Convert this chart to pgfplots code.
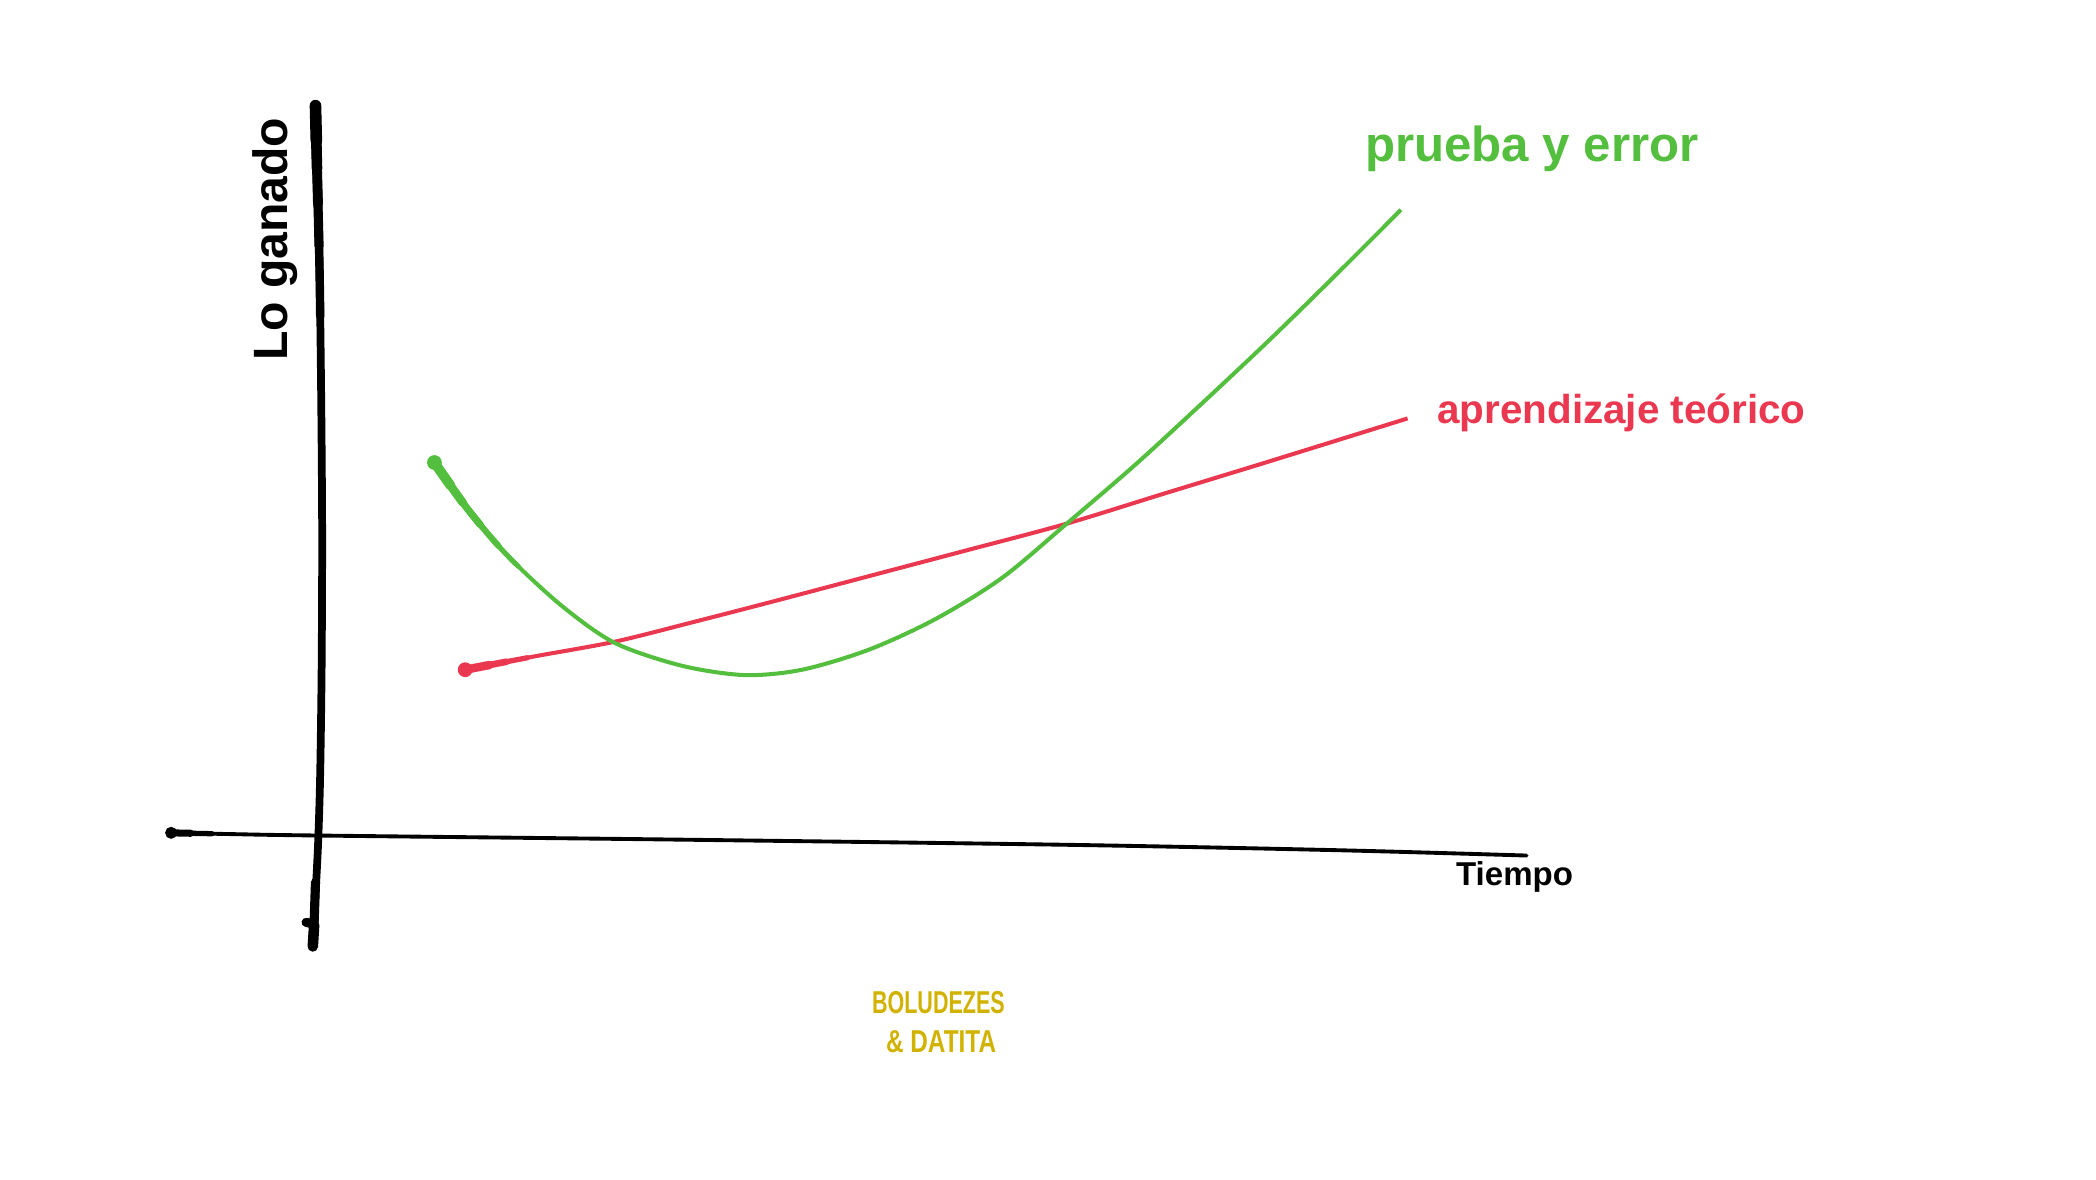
\documentclass[border=0pt]{standalone}
\usepackage{fontspec}
\setmainfont{Liberation Sans}
\usepackage{graphicx}
\usepackage{pgfplots}
\usepackage{pgfplotstable}
\pgfplotsset{compat=1.18}
\definecolor{pgreen}{RGB}{84,190,62}
\definecolor{pred}{RGB}{234,56,80}
\definecolor{pgold}{RGB}{210,178,0}
\pgfplotstableread{
x y
325 346
350 381
380 416
420 453
460 481
510 498
557 505
600 501
650 486
700 463
750 432
800 390
850 347
900 301
950 254
1000 205
1048 157
}\greendata
\pgfplotstableread{
x y
348 501
400 491
460 480
520 465
580 449.5
650 431
720 412.5
797 392
870 369.5
950 345
1053 313
}\reddata
\pgfplotstableread{
x y
236 79
237 120
239 200
240.3 300
241 400
240.6 500
239.5 580
238 630
236 670
234 708
}\yaxisdata
\pgfplotstableread{
x y
127 623
175 624
236 625
500 628
800 632
1000 636
1142 640
}\xaxisdata
\pgfplotsset{taper/.style 2 args={line width=#1, line cap=round, smooth, dash pattern=on #2 off 3000pt}}
\begin{document}
\begin{tikzpicture}
\begin{axis}[scale only axis, width=20.96cm, height=11.79cm,
  xmin=0, xmax=1568, ymin=0, ymax=882, y dir=reverse,
  axis lines=none, ticks=none, clip=false]
\coordinate (bl) at (rel axis cs:0,0);
\coordinate (tr) at (rel axis cs:1,1);
% hand-drawn y axis (tapered stroke)
\addplot[black, line width=2.2pt, line cap=round, smooth] table {\yaxisdata};
\addplot[black, taper={2.4pt}{60pt}] table {\yaxisdata};
\addplot[black, taper={2.6pt}{40pt}] table {\yaxisdata};
\addplot[black, taper={2.8pt}{28pt}] table {\yaxisdata};
\addplot[black, taper={3.0pt}{18pt}] table {\yaxisdata};
\addplot[black, taper={3.3pt}{10pt}] table {\yaxisdata};
\addplot[black, line width=2.6pt, line cap=round] coordinates {(236,660) (235,690) (234,708)};
\addplot[black, line width=3pt, line cap=round] coordinates {(235,692) (234,708)};
\addplot[black, line width=2.6pt, line cap=round] coordinates {(229,690) (234,691)};
% hand-drawn x axis
\addplot[black, line width=1.1pt, line cap=round, smooth] table {\xaxisdata};
\addplot[black, taper={1.5pt}{12pt}] table {\xaxisdata};
\addplot[black, taper={2.0pt}{6pt}] table {\xaxisdata};
\addplot[black, only marks, mark=*, mark size=1.5pt] coordinates {(128,623)};
% aprendizaje teorico
\addplot[pred, line width=1.15pt, smooth] table {\reddata};
\addplot[pred, taper={1.5pt}{18pt}] table {\reddata};
\addplot[pred, taper={1.9pt}{12pt}] table {\reddata};
\addplot[pred, taper={2.4pt}{7pt}] table {\reddata};
\addplot[pred, only marks, mark=*, mark size=1.9pt] coordinates {(348,501)};
% prueba y error
\addplot[pgreen, line width=1.15pt, smooth] table {\greendata};
\addplot[pgreen, taper={1.45pt}{38pt}] table {\greendata};
\addplot[pgreen, taper={1.75pt}{30pt}] table {\greendata};
\addplot[pgreen, taper={2.05pt}{22pt}] table {\greendata};
\addplot[pgreen, taper={2.4pt}{14pt}] table {\greendata};
\addplot[pgreen, taper={2.8pt}{8pt}] table {\greendata};
\addplot[pgreen, only marks, mark=*, mark size=1.9pt] coordinates {(325,346)};
% labels
\node[rotate=90, font=\fontsize{13.7}{15}\selectfont\bfseries, black] at (axis cs:206,179) {Lo ganado};
\node[font=\fontsize{9.4}{11}\selectfont\bfseries, black] at (axis cs:1133,656) {Tiempo};
\node[font=\fontsize{14}{16}\selectfont\bfseries, text=pgreen] at (axis cs:1146,111) {prueba y error};
\node[font=\fontsize{11.5}{13}\selectfont\bfseries, text=pred] at (axis cs:1213,309) {aprendizaje teórico};
\node[font=\fontsize{9}{10}\selectfont\bfseries, text=pgold] at (axis cs:702,750) {\scalebox{0.68}[1]{BOLUDEZES}};
\node[font=\fontsize{9}{10}\selectfont\bfseries, text=pgold] at (axis cs:704,779) {\scalebox{0.77}[1]{\& DATITA}};
\end{axis}
\pgfresetboundingbox
\path (bl) rectangle (tr);
\end{tikzpicture}
\end{document}
